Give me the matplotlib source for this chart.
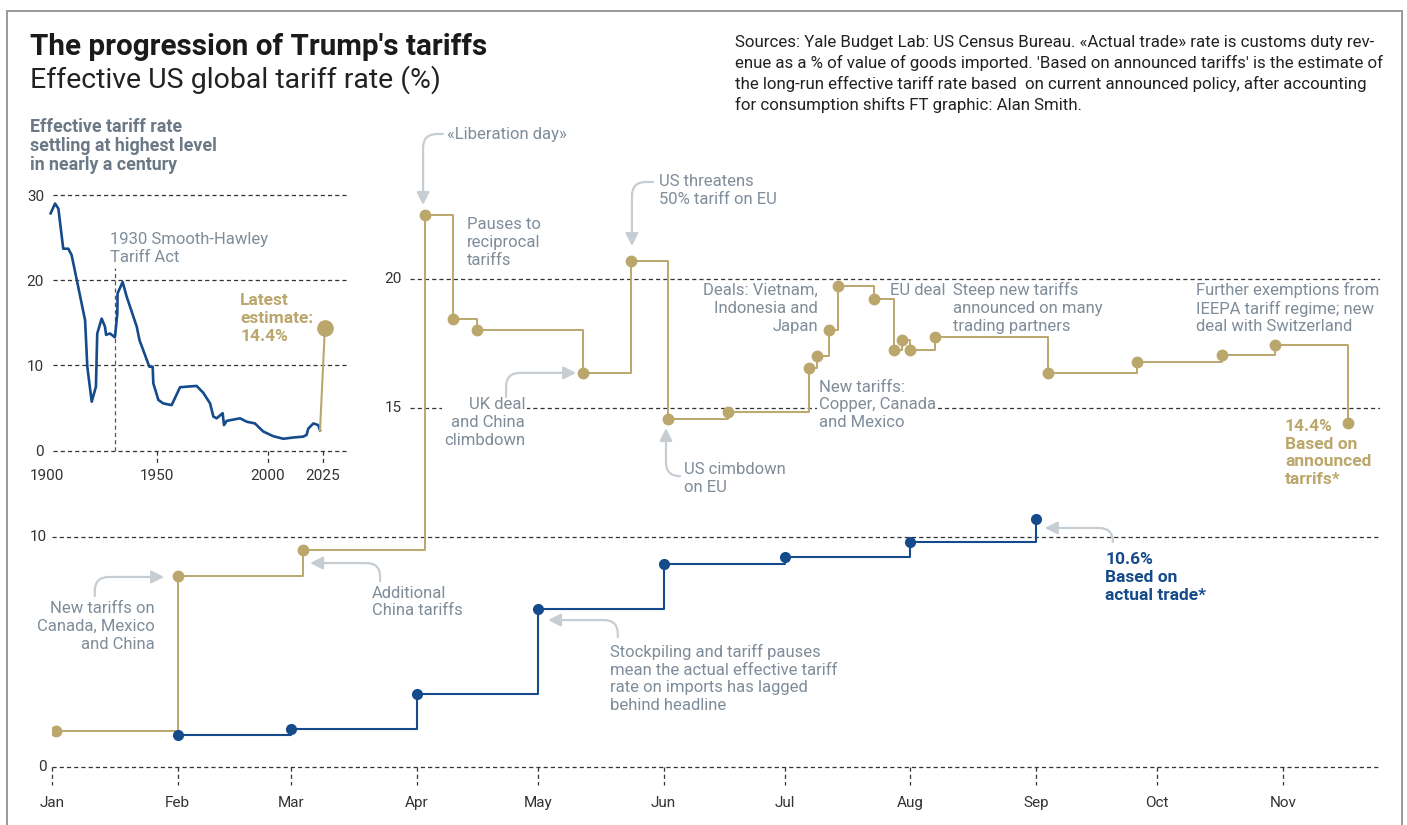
import datetime as dt
import matplotlib
matplotlib.use("Agg")
import matplotlib.pyplot as plt
import matplotlib.dates as mdates
from matplotlib.lines import Line2D

plt.rcParams['font.family'] = ['Roboto', 'DejaVu Sans']
plt.rcParams['lines.scale_dashes'] = False

GOLD = '#bba76c'
BLUE = '#154a8b'
GREY_TXT = '#7f8c99'
ARROW = '#c6cdd3'
GRID = '#333333'
DASH = (0, (3, 2.2))

JAN1 = dt.datetime(2025, 1, 1)


def day(n):
    return JAN1 + dt.timedelta(days=n)


# ---- data: effective tariff rate, based on announced tariffs (%) ----
announced_dates = ['2025-01-02', '2025-02-01', '2025-03-04', '2025-04-03', '2025-04-10',
                   '2025-04-16', '2025-05-12', '2025-05-24', '2025-06-02', '2025-06-17',
                   '2025-07-07', '2025-07-09', '2025-07-12', '2025-07-14', '2025-07-23',
                   '2025-07-28', '2025-07-30', '2025-08-01', '2025-08-07', '2025-09-04',
                   '2025-09-26', '2025-10-17', '2025-10-30', '2025-11-17']
announced_rate = [2.49, 8.48, 9.50, 22.47, 18.45, 18.02, 16.34, 20.69, 14.59, 14.83,
                  16.54, 17.02, 18.01, 19.73, 19.24, 17.25, 17.62, 17.25, 17.74, 16.37,
                  16.79, 17.05, 17.43, 14.41]

# ---- data: based on actual trade (%) ----
actual_dates = ['2025-02-01', '2025-03-01', '2025-04-01', '2025-05-01', '2025-06-01',
                '2025-07-01', '2025-08-01', '2025-09-01']
actual_rate = [2.34, 2.56, 3.93, 7.22, 8.97, 9.24, 9.81, 10.68]

# ---- data: long run history (%) ----
hist_years = [1901.7, 1903.7, 1905.2, 1907.4, 1909.7, 1911.2, 1914.2, 1917.3, 1918.3, 1920.3,
              1922.2, 1922.8, 1924.8, 1926.3, 1926.8, 1928.6, 1930.8, 1931.9, 1932.0, 1934.3,
              1936.1, 1940.7, 1941.9, 1946.4, 1947.9, 1948.2, 1950.5, 1952.7, 1956.5, 1960.3,
              1967.8, 1970.8, 1973.9, 1975.4, 1976.9, 1979.6, 1980.2, 1981.4, 1987.5, 1990.5,
              1994.2, 1998.0, 2002.5, 2007.1, 2011.6, 2016.1, 2017.6, 2018.4, 2020.7, 2022.9,
              2023.7]
hist_rate = [27.85, 29.0, 28.4, 23.7, 23.7, 22.95, 19.2, 15.3, 9.85, 5.75,
             7.5, 13.75, 15.5, 14.55, 13.6, 13.75, 13.3, 16.1, 18.45, 19.8,
             18.1, 14.55, 13.0, 9.85, 9.85, 7.9, 5.95, 5.55, 5.35, 7.45,
             7.6, 6.8, 5.55, 4.0, 3.8, 4.4, 3.0, 3.5, 3.8, 3.4,
             3.2, 2.25, 1.7, 1.4, 1.55, 1.65, 1.85, 2.6, 3.2, 3.0,
             2.4]
latest_year = 2025.9
latest_rate = 14.4

month_ticks = [dt.datetime(2025, m, 1) for m in range(1, 12)]
inset_grid = [0, 10, 20, 30]

announced_dates = [dt.datetime.fromisoformat(s) for s in announced_dates]
actual_dates = [dt.datetime.fromisoformat(s) for s in actual_dates]

W, H = 1407, 825
fig = plt.figure(figsize=(W / 100, H / 100), dpi=100)
fig.patch.set_facecolor('white')

# frame
for xs, ys in [((7, 7), (0, 814)), ((7, 1402), (814, 814)), ((1402, 1402), (0, 814))]:
    fig.add_artist(Line2D([x / W for x in xs], [y / H for y in ys], color='#9a9a9a', lw=1.4,
                          transform=fig.transFigure))

# ---- main chart ----
y_floor = 1.085   # the chart's "0" baseline
ax = fig.add_axes([52.3 / W, 58 / H, 1327.7 / W, 655.7 / H])
ax.set_xlim(JAN1, day(328))
ax.set_ylim(y_floor, 26.5)
for s in ax.spines.values():
    s.set_visible(False)
ax.set_yticks([])
ax.set_xticks(month_ticks)
ax.xaxis.set_major_formatter(mdates.DateFormatter('%b'))
ax.tick_params(axis='x', length=0, pad=21, labelsize=11, labelcolor='#333333')

ax.axhline(y_floor, color=GRID, lw=0.9, ls=DASH, zorder=1, clip_on=False)
ax.hlines(10, JAN1, day(328), color=GRID, lw=0.9, ls=DASH, zorder=1)
for g in [15, 20]:
    ax.hlines(g, day(88.4), day(328), color=GRID, lw=0.9, ls=DASH, zorder=1)
for d in month_ticks:
    ax.plot([d, d], [0, -0.027], transform=ax.get_xaxis_transform(), color=GRID, lw=0.9,
            ls=DASH, clip_on=False)
for g, lab in [(y_floor, '0'), (10, '10')]:
    ax.text(day(-1.3), g, lab, ha='right', va='center', fontsize=11, color='#333333')
for g in [15, 20]:
    ax.text(day(86.3), g, str(g), ha='right', va='center', fontsize=11, color='#333333')

ax.plot(announced_dates, announced_rate, drawstyle='steps-post', color=GOLD, lw=1.4, zorder=4)
ax.plot(announced_dates, announced_rate, 'o', color=GOLD, ms=7.5, zorder=5)
ax.plot(actual_dates, actual_rate, drawstyle='steps-post', color=BLUE, lw=1.5, zorder=4)
ax.plot(actual_dates, actual_rate, 'o', color=BLUE, ms=7, zorder=5)

LS = 1.23
note = dict(fontsize=12, color=GREY_TXT, va='center', linespacing=LS, zorder=3)
white = dict(facecolor='white', edgecolor='none', pad=1.5)
ax.text(day(97.5), 25.62, '«Liberation day»', ha='left', **note)
ax.text(day(102.4), 21.41, 'Pauses to\nreciprocal\ntariffs', ha='left', **note)
ax.text(day(149.9), 23.43, 'US threatens\n50% tariff on EU', ha='left', **note)
ax.text(day(116.8), 14.44, 'UK deal\nand China\nclimbdown', ha='right', multialignment='right',
        bbox=white, **note)
ax.text(day(156), 12.27, 'US cimbdown\non EU', ha='left', **note)
ax.text(day(189.2), 18.86, 'Deals: Vietnam,\nIndonesia and\nJapan', ha='right',
        multialignment='right', **note)
ax.text(day(189.4), 15.12, 'New tariffs:\nCopper, Canada\nand Mexico', ha='left', bbox=white, **note)
ax.text(day(206.9), 19.57, 'EU deal', ha='left', **note)
ax.text(day(222.5), 18.88, 'Steep new tariffs\nannounced on many\ntrading partners', ha='left', **note)
ax.text(day(282.5), 18.88, 'Further exemptions from\nIEEPA tariff regime; new\ndeal with Switzerland',
        ha='left', **note)
ax.text(day(25.4), 6.53, 'New tariffs on\nCanada, Mexico\nand China', ha='right',
        multialignment='right', **note)
ax.text(day(79), 7.48, 'Additional\nChina tariffs', ha='left', **note)
ax.text(day(137.8), 4.52, 'Stockpiling and tariff pauses\nmean the actual effective tariff\n'
        'rate on imports has lagged\nbehind headline', ha='left', **note)
ax.text(day(304.5), 13.26, '14.4%\nBased on\nannounced\ntarrifs*', ha='left', fontsize=12.5,
        color=GOLD, weight='bold', va='center', linespacing=LS)
ax.text(day(260.1), 8.43, '10.6%\nBased on\nactual trade*', ha='left', fontsize=12.5,
        color=BLUE, weight='bold', va='center', linespacing=LS)

arrows = [
    ((96.5, 25.62), (91.6, 22.87), 0, 90),
    ((148.4, 23.76), (143.2, 21.28), 0, 90),
    ((112.1, 15.43), (129.4, 16.36), 90, 0),
    ((155.0, 12.36), (151.6, 14.22), 0, 90),
    ((262.0, 9.84), (245.2, 10.35), 90, 0),
    ((10.5, 7.71), (27.6, 8.45), 90, 0),
    ((81.0, 8.29), (63.7, 8.99), 90, 0),
    ((139.7, 6.12), (122.5, 6.78), 90, 0),
]
for (sx, sy), (tx, ty), a_a, a_b in arrows:
    ax.annotate('', xy=(day(tx), ty), xytext=(day(sx), sy),
                arrowprops=dict(arrowstyle='-|>,head_length=0.75,head_width=0.38', color=ARROW,
                                lw=1.6, shrinkA=0, shrinkB=0,
                                connectionstyle=f'angle,angleA={a_a},angleB={a_b},rad=14'),
                zorder=3)

# ---- inset: history ----
axi = fig.add_axes([46.9 / W, (H - 450.7) / H, 299.4 / W, 264.2 / H])
axi.set_xlim(1900, 2035.6)
axi.set_ylim(0, 31)
axi.patch.set_alpha(0)
for s in axi.spines.values():
    s.set_visible(False)
for g in inset_grid:
    axi.hlines(g, 1902.8, 2035.6, color=GRID, lw=0.9, ls=DASH, clip_on=False)
axi.set_yticks(inset_grid)
axi.set_xticks([1900, 1950, 2000, 2025])
axi.tick_params(length=0, labelsize=11, labelcolor='#333333')
axi.tick_params(axis='y', pad=2)
axi.tick_params(axis='x', pad=13)
for yr in [1950, 2000, 2025]:
    axi.plot([yr, yr], [0, -1.45], color=GRID, lw=0.9, ls=DASH, clip_on=False)
axi.plot([1930.8, 1930.8], [0, 21.4], color='#555555', lw=0.9, ls=DASH)
axi.plot(hist_years, hist_rate, color=BLUE, lw=1.9, solid_joinstyle='round')
axi.plot([hist_years[-1], latest_year], [hist_rate[-1], latest_rate], color=GOLD, lw=1.5)
axi.plot([latest_year], [latest_rate], 'o', color=GOLD, ms=11)
axi.text(1928.6, 23.7, '1930 Smooth-Hawley\nTariff Act', fontsize=12, color=GREY_TXT,
         ha='left', va='center', linespacing=LS)
axi.text(1987.5, 15.5, 'Latest\nestimate:\n14.4%', fontsize=12.5, color=GOLD, weight='bold',
         ha='left', va='center', linespacing=LS)

fig.text(30 / W, 1 - 146 / H, 'Effective tariff rate\nsettling at highest level\nin nearly a century',
         fontsize=12.8, weight='bold', color='#6b7886', ha='left', va='center', linespacing=1.05)

# ---- titles ----
fig.text(30 / W, 1 - 47 / H, "The progression of Trump's tariffs", fontsize=21.3, weight='bold',
         color='#1a1a1a', ha='left', va='center')
fig.text(30 / W, 1 - 80 / H, 'Effective US global tariff rate (%)', fontsize=20.5,
         color='#222222', ha='left', va='center')
fig.text(735 / W, 1 - 74 / H,
         "Sources: Yale Budget Lab: US Census Bureau. «Actual trade» rate is customs duty rev-\n"
         "enue as a % of value of goods imported. 'Based on announced tariffs' is the estimate of\n"
         "the long-run effective tariff rate based  on current announced policy, after accounting\n"
         "for consumption shifts FT graphic: Alan Smith.",
         fontsize=12.2, color='#222222', ha='left', va='center', linespacing=1.36)

fig.savefig('out.png', dpi=100, facecolor='white')
